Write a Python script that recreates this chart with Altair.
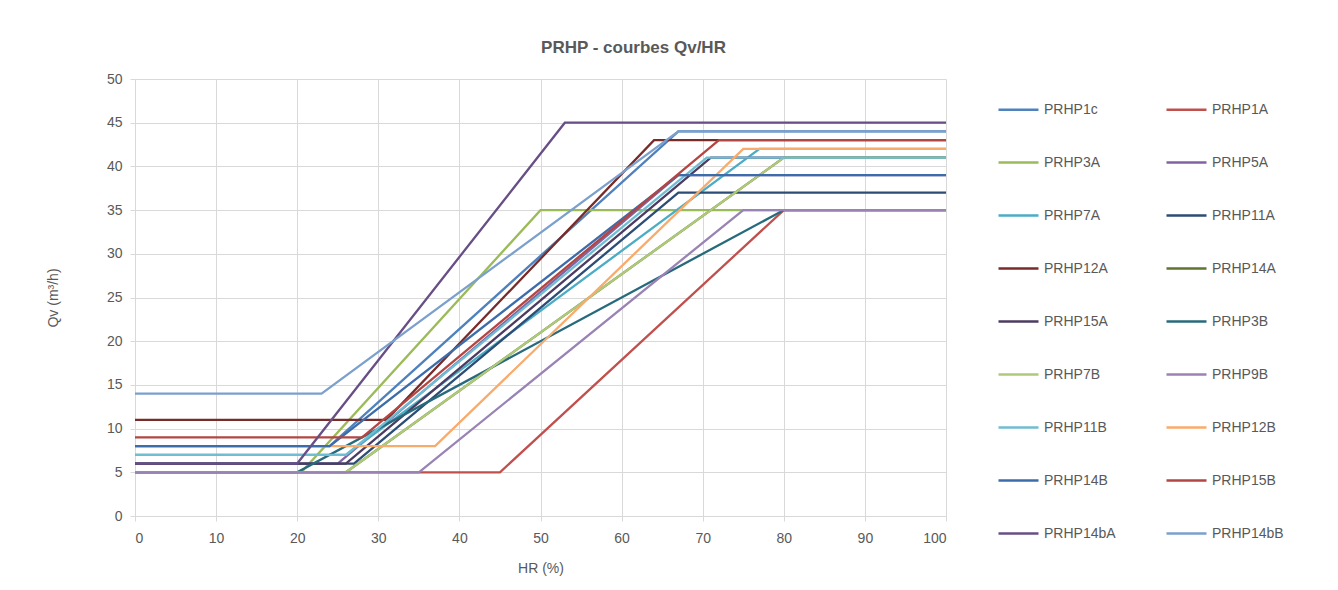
import altair as alt
import pandas as pd

SERIES = ["PRHP1c", "PRHP1A", "PRHP3A", "PRHP5A", "PRHP7A", "PRHP11A",
          "PRHP12A", "PRHP14A", "PRHP15A", "PRHP3B", "PRHP7B", "PRHP9B",
          "PRHP11B", "PRHP12B", "PRHP14B", "PRHP15B", "PRHP14bA", "PRHP14bB"]

COLORS = ["#4F81BD", "#C0504D", "#9BBB59", "#8064A2", "#4BACC6", "#2C4D75",
          "#772C2A", "#5F7530", "#4D3B62", "#276A7C", "#AFC97A", "#9983B5",
          "#6FBDD3", "#F9AB6B", "#3D6CAB", "#B34542", "#674F86", "#7BA0CD"]

# HR (%) breakpoints and Qv (m3/h) values per series
hr_PRHP1c = [0, 24, 67, 100];   qv_PRHP1c = [8, 8, 44, 44]
hr_PRHP1A = [0, 45, 80, 100];   qv_PRHP1A = [5, 5, 35, 35]
hr_PRHP3A = [0, 20.5, 50, 100]; qv_PRHP3A = [5, 5, 35, 35]
hr_PRHP5A = [0, 25, 67, 100];   qv_PRHP5A = [6, 6, 39, 39]
hr_PRHP7A = [0, 26, 77, 100];   qv_PRHP7A = [7, 7, 42, 42]
hr_PRHP11A = [0, 27, 67, 100];  qv_PRHP11A = [6, 6, 37, 37]
hr_PRHP12A = [0, 31, 64, 100];  qv_PRHP12A = [11, 11, 43, 43]
hr_PRHP14A = [0, 26, 80, 100];  qv_PRHP14A = [5, 5, 41, 41]
hr_PRHP15A = [0, 26, 71, 100];  qv_PRHP15A = [6, 6, 41, 41]
hr_PRHP3B = [0, 20, 80, 100];   qv_PRHP3B = [5, 5, 35, 35]
hr_PRHP7B = [0, 26, 80, 100];   qv_PRHP7B = [5, 5, 41, 41]
hr_PRHP9B = [0, 35, 75, 100];   qv_PRHP9B = [5, 5, 35, 35]
hr_PRHP11B = [0, 26, 70.5, 100]; qv_PRHP11B = [7, 7, 41, 41]
hr_PRHP12B = [0, 37, 75, 100];  qv_PRHP12B = [8, 8, 42, 42]
hr_PRHP14B = [0, 24, 67, 100];  qv_PRHP14B = [8, 8, 39, 39]
hr_PRHP15B = [0, 28, 72, 100];  qv_PRHP15B = [9, 9, 43, 43]
hr_PRHP14bA = [0, 20, 53, 100]; qv_PRHP14bA = [6, 6, 45, 45]
hr_PRHP14bB = [0, 23, 67, 100]; qv_PRHP14bB = [14, 14, 44, 44]

X_TICKS = list(range(0, 101, 10))
Y_TICKS = list(range(0, 51, 5))

g = globals()
rows = []
for s_idx, name in enumerate(SERIES):
    hrs = g["hr_" + name]
    qvs = g["qv_" + name]
    for p_idx, (h, q) in enumerate(zip(hrs, qvs)):
        rows.append({"serie": name, "hr": h, "qv": q, "idx": s_idx, "pt": p_idx})
df = pd.DataFrame(rows)

FONT = "Liberation Sans"
GREY = "#595959"
GRID = "#D9D9D9"

chart = alt.Chart(df).mark_line(strokeWidth=2.3, clip=True).encode(
    x=alt.X("hr:Q", scale=alt.Scale(domain=[0, 100], nice=False),
            axis=alt.Axis(values=X_TICKS, title="HR (%)", format="d",
                          labelPadding=10, titlePadding=16)),
    y=alt.Y("qv:Q", scale=alt.Scale(domain=[0, 50], nice=False),
            axis=alt.Axis(values=Y_TICKS, title="Qv (m³/h)", format="d",
                          labelPadding=8, titlePadding=46)),
    color=alt.Color("serie:N",
                    scale=alt.Scale(domain=SERIES, range=COLORS),
                    sort=SERIES,
                    legend=alt.Legend(title=None, orient="none",
                                      legendX=862, legendY=9,
                                      columns=2, direction="horizontal",
                                      symbolType="stroke",
                                      symbolSize=1600, symbolStrokeWidth=2.5,
                                      labelFontSize=14, labelColor=GREY,
                                      labelFont=FONT, labelOffset=4,
                                      rowPadding=24, columnPadding=45,
                                      gridAlign="all", padding=0)),
    detail="serie:N",
    order=alt.Order("pt:Q"),
).properties(
    width=811,
    height=437,
    title=alt.TitleParams("PRHP - courbes Qv/HR", fontSize=17, fontWeight="bold",
                          color=GREY, font=FONT, anchor="middle", dx=93, offset=15),
    autosize=alt.AutoSizeParams(type="none"),
    padding={"left": 127, "top": 71, "right": 380, "bottom": 66},
).configure_axis(
    gridColor=GRID, domainColor=GRID, tickColor=GRID, tickSize=5,
    labelColor=GREY, titleColor=GREY, labelFont=FONT, titleFont=FONT,
    labelFontSize=14, titleFontSize=14, titleFontWeight="normal",
).configure_view(stroke=None)

chart.save("out.html", embed_options={"renderer": "svg", "actions": False})
